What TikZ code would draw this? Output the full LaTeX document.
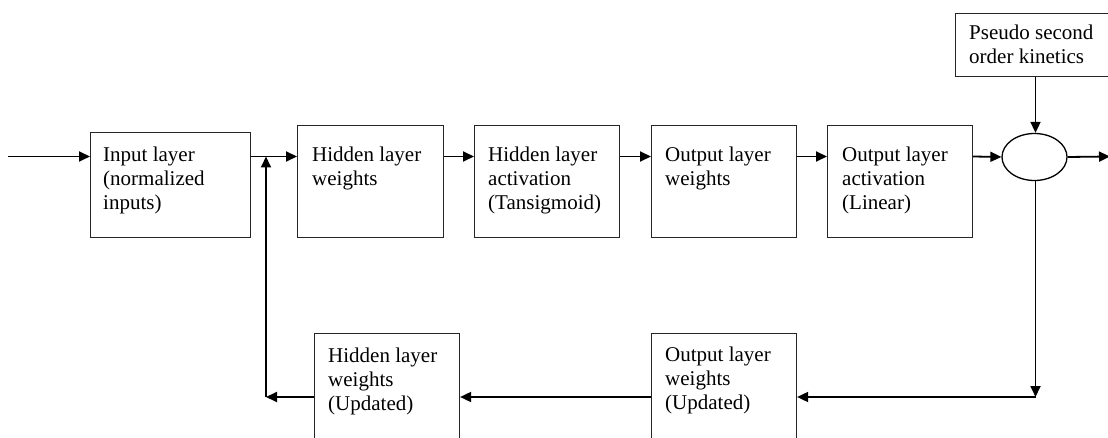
\documentclass[tikz,border=0pt]{standalone}
\usepackage{fontspec}
\setmainfont{Liberation Serif}
\usetikzlibrary{arrows.meta,shapes.geometric}
\begin{document}
\begin{tikzpicture}[x=1pt,y=-1pt,
  blk/.style={draw=black!85,line width=1.1pt,inner sep=0pt},
  txt/.style={anchor=north west,inner sep=0pt,align=left,font=\fontsize{21}{24}\selectfont},
  con/.style={line width=1.8pt,-{Triangle[length=11pt,width=10pt]}},
  ln/.style={line width=1.8pt}]
\clip (0,0) rectangle (1108,438);
% boxes
\node[blk,anchor=north west,minimum width=160,minimum height=105] (in) at (90,132) {};
\node[blk,anchor=north west,minimum width=146,minimum height=112] (hw) at (297,125) {};
\node[blk,anchor=north west,minimum width=145,minimum height=112] (ha) at (474,125) {};
\node[blk,anchor=north west,minimum width=145,minimum height=112] (ow) at (651,125) {};
\node[blk,anchor=north west,minimum width=145,minimum height=112] (oa) at (827,125) {};
\node[blk,anchor=north west,minimum width=158,minimum height=63] (ps) at (955,13) {};
\node[blk,anchor=north west,minimum width=145,minimum height=115] (hu) at (314,333) {};
\node[blk,anchor=north west,minimum width=145,minimum height=115] (ou) at (651,333) {};
\node[draw=black,line width=1.3pt,ellipse,minimum width=65,minimum height=47,inner sep=0pt] (sum) at (1034.5,157) {};
% texts
\node[txt] (in-t) at (103,161-16.8) {\strut Input layer\\(normalized\\inputs)};
\node[txt] (hw-t) at (312,161-16.8) {\strut Hidden layer\\weights};
\node[txt] (ha-t) at (488,161-16.8) {\strut Hidden layer\\activation\\(Tansigmoid)};
\node[txt] (ow-t) at (665,161-16.8) {\strut Output layer\\weights};
\node[txt] (oa-t) at (842,161-16.8) {\strut Output layer\\activation\\(Linear)};
\node[txt] (ps-t) at (969,39-16.8) {\strut Pseudo second\\order kinetics};
\node[txt] (hu-t) at (328,362-16.8) {\strut Hidden layer\\weights\\(Updated)};
\node[txt] (ou-t) at (665,361-16.8) {\strut Output layer\\weights\\(Updated)};
% coordinates
\coordinate (src) at (8,156.5);
\coordinate (j) at (266,156.5);
\coordinate (c) at (266,397);
\coordinate (fb) at (1035.5,397);
\coordinate (out) at (1110,156.5);
% connectors
\draw[con] (src) -- (in.west |- src);
\draw[con] (in.east |- src) -- (hw.west |- src);
\draw[con] (hw.east |- src) -- (ha.west |- src);
\draw[con] (ha.east |- src) -- (ow.west |- src);
\draw[con] (ow.east |- src) -- (oa.west |- src);
\draw[con] (oa.east |- src) -- (sum.west);
\draw[con] (sum.east) -- (out);
\draw[con] (ps.south -| fb) -- (sum.north -| fb);
\draw[con] (sum.south -| fb) -- (fb);
\draw[con] (fb) -- (ou.east |- fb);
\draw[con] (ou.west |- fb) -- (hu.east |- fb);
\draw[con] (hu.west |- fb) -- (c);
\draw[con] (c) -- (j);
\end{tikzpicture}
\end{document}
